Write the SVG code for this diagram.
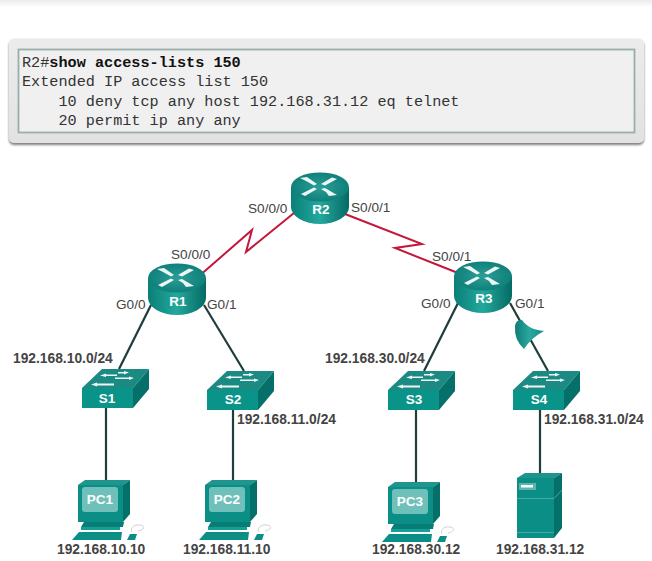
<svg xmlns="http://www.w3.org/2000/svg" width="652" height="561" viewBox="0 0 652 561">
<style>
.cli{font-family:"Liberation Mono",monospace;font-size:15.2px;fill:#333}
.b{font-weight:bold;fill:#111}
.port{font-family:"Liberation Sans",Arial,sans-serif;font-size:13.6px;fill:#444}
.net{font-family:"Liberation Sans",Arial,sans-serif;font-size:13.8px;font-weight:bold;fill:#444}
.dev{font-family:"Liberation Sans",Arial,sans-serif;font-size:13.500px;font-weight:bold;fill:#fff;text-anchor:middle}
.lan{stroke:#1f3d3c;stroke-width:2.2;fill:none}
.wan{stroke:#c4173a;stroke-width:2;fill:none}
.arrow{fill:#fff;opacity:.92}
</style>
<defs>
<linearGradient id="band" x1="0" y1="0" x2="0" y2="1"><stop offset="0" stop-color="#ebebeb"/><stop offset="1" stop-color="#fff"/></linearGradient>
<linearGradient id="panel" x1="0" y1="0" x2="0" y2="1"><stop offset="0" stop-color="#ececec"/><stop offset="1" stop-color="#e2e2e2"/></linearGradient>
<linearGradient id="rside" x1="0" y1="0" x2="1" y2="0"><stop offset="0" stop-color="#0a7f78"/><stop offset=".5" stop-color="#23a89d"/><stop offset="1" stop-color="#056a64"/></linearGradient>
<radialGradient id="rtop" cx=".5" cy=".5" r=".6"><stop offset="0" stop-color="#2a9e96"/><stop offset="1" stop-color="#0b7a74"/></radialGradient>
<linearGradient id="cone" x1="0" y1="0" x2="1" y2="0"><stop offset="0" stop-color="#0d7d77"/><stop offset=".5" stop-color="#2ba79d"/><stop offset="1" stop-color="#148e86"/></linearGradient>
<filter id="sh" x="-2%" y="-10%" width="104%" height="125%"><feDropShadow dx="0" dy="2" stdDeviation="1.2" flood-color="#555" flood-opacity=".75"/></filter>
<g id="router">
<path d="M-29 -15V5A29 17 0 0 0 29 5V-15Z" fill="url(#rside)"/>
<ellipse cx="0" cy="-15" rx="29" ry="14.500" fill="url(#rtop)"/>
<path class="arrow" d="M-20 -24L-13 -25L-3 -18L-6 -16.500L-13 -20.500Z"/>
<path class="arrow" d="M12 -24.500L17 -23L5 -16.500L1 -18Z"/>
<path class="arrow" d="M-15 -6L-19 -8L-6 -14.500L-3 -13Z"/>
<path class="arrow" d="M9 -6L17 -7L5 -14L1 -13L6 -10Z"/>
</g>
<g id="switch">
<path d="M0 19H51L67 0H20Z" fill="#1b8a83"/>
<rect x="0" y="19" width="51" height="20" fill="#0a9489"/>
<path d="M51 19L67 0V20L51 39Z" fill="#05706a"/>
<path class="arrow" d="M9 15.500l6-2v1h17v2H15v1Z"/>
<path class="arrow" d="M47 3.500l-5-1.500v1H36v1.500h6v1Z"/>
<path class="arrow" d="M18 6.500l6-2v1h11v1.500H24v1Z"/>
<path class="arrow" d="M52 9l-5-1.500v1H33V10h14v1Z"/>
</g>
<g id="pc">
<path d="M0 5L7 0H52L45 5Z" fill="#20958e"/>
<rect x="0" y="5" width="45" height="37" fill="#0a8e85"/>
<path d="M45 5L52 0V34L45 42Z" fill="#056f69"/>
<rect x="4" y="7" width="36" height="25" rx="3" fill="#6fc0ba"/>
<path d="M3 47H45L46 42H6Z" fill="#087d76"/>
<path d="M3 47H42V50H3Z" fill="#13a096"/>
<path d="M-6 60L1 52H44L43 60Z" fill="#0a8e85"/>
<path d="M49 60L52 54H59L57 60Z" fill="#0a8e85"/>
<path d="M54 52C52 48 56 44 62 45C68 46 66 50 60 51" fill="none" stroke="#bbb" stroke-width=".7"/>
</g>
</defs>
<rect x="0" y="0" width="652" height="7" fill="url(#band)"/>
<rect x="9" y="38.500" width="635" height="104.500" rx="5" fill="url(#panel)" filter="url(#sh)"/>
<rect x="18.500" y="49.500" width="616" height="83" fill="#f0f0f0" stroke="#9aaeac" stroke-width="1.800"/>
<g id="cli">
<text class="cli" x="22" y="66.500">R2#<tspan class="b">show access-lists 150</tspan></text>
<text class="cli" x="22" y="86">Extended IP access list 150</text>
<text class="cli" x="22" y="105.500" xml:space="preserve">    10 deny tcp any host 192.168.31.12 eq telnet</text>
<text class="cli" x="22" y="125" xml:space="preserve">    20 permit ip any any</text>
</g>
<g id="connectors">
<path class="wan" d="M198 277L252 230 246 252 294 213"/>
<path class="wan" d="M345 214L422 244 395 248 458 273"/>
<path class="lan" d="M151 305L119 369"/>
<path class="lan" d="M204 305L244 371"/>
<path class="lan" d="M458 303L424 371"/>
<path class="lan" d="M510 303L548 371"/>
<path class="lan" d="M106 408V480"/>
<path class="lan" d="M233 408V480"/>
<path class="lan" d="M416 408V482"/>
<path class="lan" d="M540 408V473"/>
</g>
<g id="R2"><use href="#router" x="320" y="202"/><text class="dev" x="321" y="214">R2</text></g>
<g id="R1"><use href="#router" x="177" y="293"/><text class="dev" x="178" y="306">R1</text></g>
<g id="R3"><use href="#router" x="483" y="291"/><text class="dev" x="484" y="303">R3</text></g>
<g id="acl-filter">
<path d="M515 326Q516 319 522 320C527 327 534 330 544 331Q531 338 524 349Q514 340 515 326Z" fill="url(#cone)"/>
</g>
<g id="S1"><use href="#switch" x="82" y="369"/><text class="dev" x="107" y="403">S1</text></g>
<g id="S2"><use href="#switch" x="207" y="371"/><text class="dev" x="233" y="404">S2</text></g>
<g id="S3"><use href="#switch" x="388" y="371"/><text class="dev" x="414" y="404">S3</text></g>
<g id="S4"><use href="#switch" x="513" y="371"/><text class="dev" x="539" y="404">S4</text></g>
<g id="PC1"><use href="#pc" x="78" y="480"/><text class="dev" x="100" y="504">PC1</text></g>
<g id="PC2"><use href="#pc" x="205" y="480"/><text class="dev" x="227" y="504">PC2</text></g>
<g id="PC3"><use href="#pc" x="388" y="482"/><text class="dev" x="410" y="506">PC3</text></g>
<g id="server">
<path d="M517 478L525 473H562L554 478Z" fill="#1d958d"/>
<rect x="517" y="478" width="37" height="60" fill="#0a8e85"/>
<path d="M554 478L562 473V528L554 538Z" fill="#056f69"/>
<rect x="519" y="483" width="17" height="7" fill="#5fb4ae"/>
<rect x="521" y="485" width="12" height="2.500" fill="#fff"/>
<path d="M517 498.500H554L562 490" stroke="#45aaa3" fill="none"/>
<path d="M517 532.500H554" stroke="#45aaa3" fill="none"/>
</g>
<g id="labels">
<text class="port" x="248" y="213">S0/0/0</text>
<text class="port" x="351" y="212">S0/0/1</text>
<text class="port" x="171" y="259">S0/0/0</text>
<text class="port" x="432" y="261">S0/0/1</text>
<text class="port" x="116" y="309">G0/0</text>
<text class="port" x="207" y="309">G0/1</text>
<text class="port" x="421" y="308">G0/0</text>
<text class="port" x="515" y="308">G0/1</text>
<text class="net" x="13" y="363">192.168.10.0/24</text>
<text class="net" x="237" y="424">192.168.11.0/24</text>
<text class="net" x="325" y="363">192.168.30.0/24</text>
<text class="net" x="544" y="424">192.168.31.0/24</text>
<text class="net" x="57" y="554">192.168.10.10</text>
<text class="net" x="183" y="554">192.168.11.10</text>
<text class="net" x="372" y="554">192.168.30.12</text>
<text class="net" x="496" y="554">192.168.31.12</text>
</g>
</svg>
